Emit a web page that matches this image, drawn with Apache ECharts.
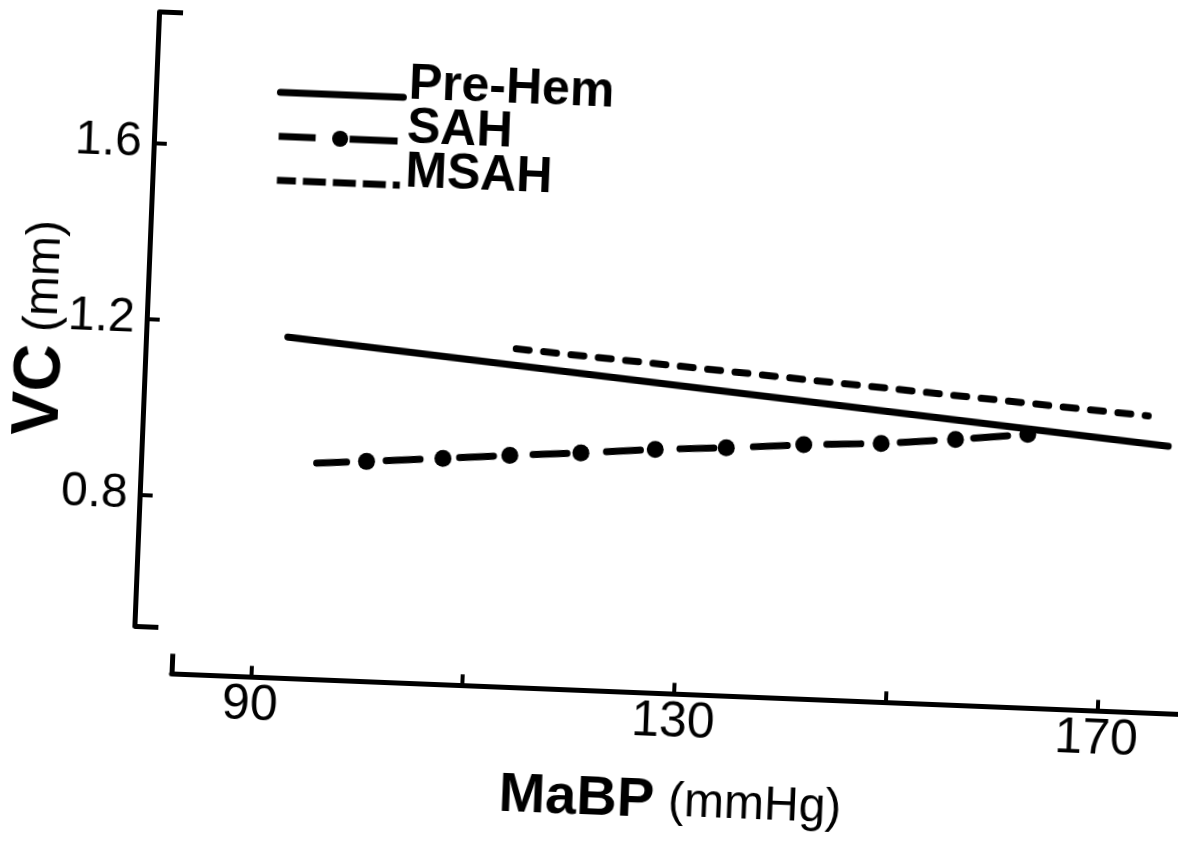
<!DOCTYPE html>
<html>
<head>
<meta charset="utf-8">
<script src="https://cdn.jsdelivr.net/npm/echarts@6/dist/echarts.min.js"></script>
<style>
  html, body { margin: 0; padding: 0; background: #fff; overflow: hidden; width: 1178px; height: 842px; }
  /* the scanned figure sits a little skewed on the page */
  #chart { position: absolute; left: 0; top: 0; width: 1240px; height: 842px;
           transform-origin: 589px 421px; transform: rotate(2.3deg); }
</style>
</head>
<body>
<div id="chart"></div>
<script>
// MaBP (mmHg) vs VC (mm)
const preHemX = [92.2, 175.7];
const preHemY = [1.172, 1.004];

const sahX = [95.4, 100.1, 107.3, 113.6, 120.3, 127.3, 134.0, 141.3, 148.6, 155.6, 162.4];
const sahY = [0.888, 0.896, 0.910, 0.923, 0.935, 0.950, 0.960, 0.974, 0.984, 1.000, 1.018];

const msahX = [113.8, 173.7];
const msahY = [1.166, 1.071];

const xTicks = [90, 110, 130, 150, 170];
const xTickLabels = [90, 130, 170];
const yTicks = [0.8, 1.2, 1.6];

const FONT = '"Liberation Sans", Arial, sans-serif';

const pairs = (xs, ys) => xs.map((x, i) => [x, ys[i]]);

const chart = echarts.init(document.getElementById('chart'));

const axisLine = { show: true, lineStyle: { color: '#000', width: 5 } };

const option = {
  backgroundColor: '#fff',
  animation: false,
  grid: { left: 182, top: 29.4, width: 1032.3, height: 614.9, outerBoundsMode: 'none', containLabel: false },
  legend: {
    orient: 'vertical',
    left: 264,
    top: 67,
    padding: 0,
    itemGap: -32,
    itemWidth: 123,
    itemHeight: 20,
    lineStyle: { width: 7 },
    formatter: '{t|{name}}',
    textStyle: {
      color: '#000',
      rich: {
        t: { fontFamily: FONT, fontSize: 50, fontWeight: 'bold', color: '#000',
             lineHeight: 24, padding: [0, 0, 26, 0] }
      }
    },
    data: [
      { name: 'Pre-Hem', itemStyle: { opacity: 0 } },
      { name: 'SAH', lineStyle: { type: [41, 34, 48], cap: 'butt' } },
      { name: 'MSAH', itemStyle: { opacity: 0 }, lineStyle: { type: [23, 7], cap: 'butt' } }
    ]
  },
  xAxis: [
    {
      type: 'value', min: 82.5, max: 180, offset: 46,
      splitLine: { show: false },
      axisLine,
      axisTick: { show: true, inside: true, length: 11, customValues: xTicks,
                  lineStyle: { color: '#000', width: 4 } },
      axisLabel: { customValues: xTickLabels, margin: 4, color: '#000',
                   fontFamily: FONT, fontSize: 50 },
      name: '{a|MaBP}{b|(mmHg)}',
      nameLocation: 'middle',
      nameGap: 80,
      nameMoveOverlap: false,
      nameTextStyle: {
        padding: [0, 26, 0, 0],
        rich: {
          a: { fontFamily: FONT, fontSize: 56, fontWeight: 'bold', color: '#000' },
          b: { fontFamily: FONT, fontSize: 48, color: '#000', padding: [0, 0, 0, 14] }
        }
      }
    },
    {
      // bracket end on the left of the x axis
      type: 'value', min: 82.5, max: 180, offset: 46, position: 'bottom',
      splitLine: { show: false },
      axisLine: { show: false },
      axisLabel: { show: false },
      axisTick: { show: true, inside: true, length: 20, customValues: [82.5],
                  lineStyle: { color: '#000', width: 5 } }
    }
  ],
  yAxis: [
    {
      type: 'value', min: 0.5, max: 1.9, offset: 39, position: 'left',
      splitLine: { show: false },
      axisLine,
      axisTick: { show: true, inside: true, length: 13, customValues: yTicks,
                  lineStyle: { color: '#000', width: 4 } },
      axisLabel: { customValues: yTicks, margin: 12, color: '#000',
                   fontFamily: FONT, fontSize: 48 },
      name: '{a|VC}{b|(mm)}',
      nameLocation: 'middle',
      nameGap: 70,
      nameMoveOverlap: false,
      nameTextStyle: {
        padding: [0, 26, 0, 0],
        rich: {
          a: { fontFamily: FONT, fontSize: 66, fontWeight: 'bold', color: '#000' },
          b: { fontFamily: FONT, fontSize: 48, color: '#000', padding: [0, 0, 0, 12] }
        }
      }
    },
    {
      // bracket ends at top and bottom of the y axis
      type: 'value', min: 0.5, max: 1.9, offset: 39, position: 'left',
      splitLine: { show: false },
      axisLine: { show: false },
      axisLabel: { show: false },
      axisTick: { show: true, inside: true, length: 24, customValues: [0.5, 1.9],
                  lineStyle: { color: '#000', width: 5 } }
    }
  ],
  series: [
    {
      name: 'Pre-Hem',
      type: 'line',
      data: pairs(preHemX, preHemY),
      symbol: 'none',
      lineStyle: { color: '#000', width: 7, cap: 'round' },
      itemStyle: { color: '#000' }
    },
    {
      name: 'SAH',
      type: 'line',
      data: pairs(sahX, sahY).map((p, i) => (i === 0 ? { value: p, symbol: 'none' } : p)),
      symbol: 'circle',
      symbolSize: 17,
      lineStyle: { color: '#000', width: 7, type: [34, 39.5], dashOffset: 4, cap: 'round' },
      itemStyle: { color: '#000' }
    },
    {
      name: 'MSAH',
      type: 'line',
      data: pairs(msahX, msahY),
      symbol: 'none',
      lineStyle: { color: '#000', width: 7, type: [13, 14.5], cap: 'round' },
      itemStyle: { color: '#000' }
    }
  ]
};

chart.setOption(option);
window.addEventListener('resize', () => chart.resize());
</script>
</body>
</html>
